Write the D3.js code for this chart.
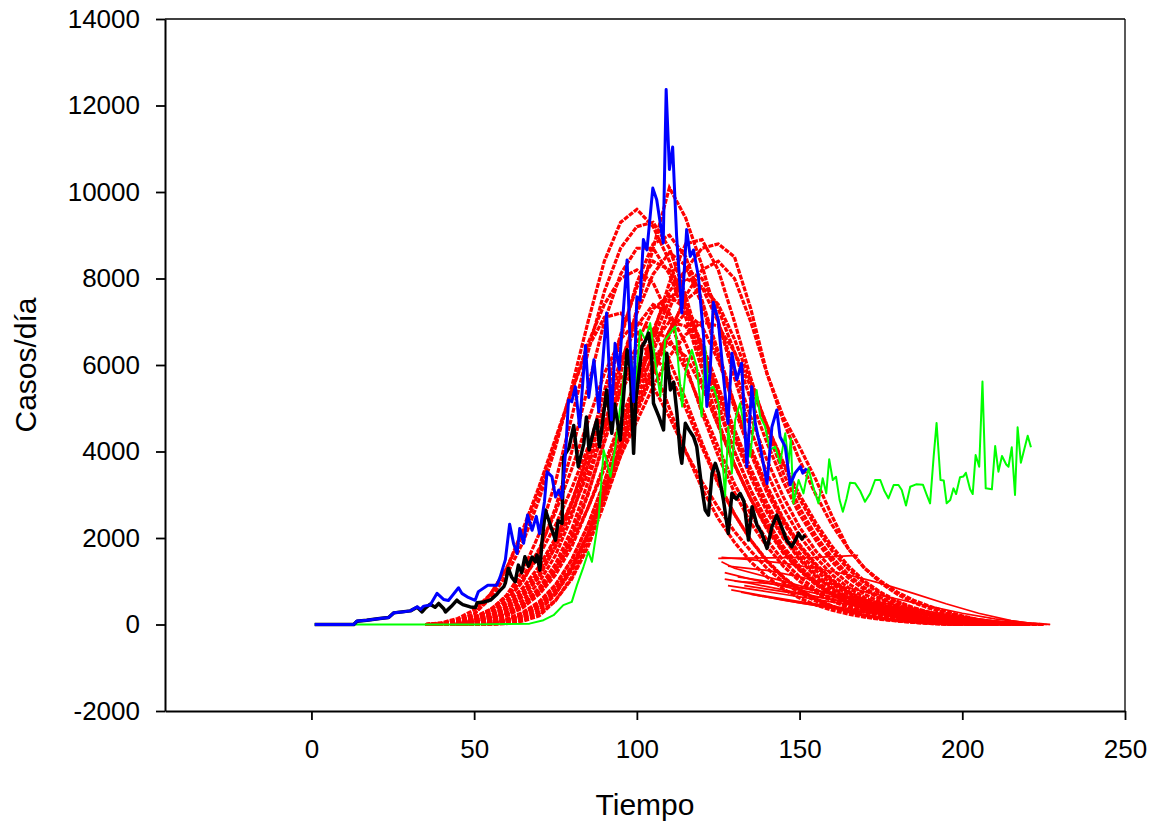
<!DOCTYPE html>
<html><head><meta charset="utf-8">
<script src="https://cdn.jsdelivr.net/npm/d3@7"></script>
<style>body{margin:0;background:#fff} text{font-family:"Liberation Sans",Arial,sans-serif}</style>
</head><body><svg id="c" width="1155" height="829"></svg>
<script>
const xTicks=[0,50,100,150,200,250];
const yTicks=[-2000,0,2000,4000,6000,8000,10000,12000,14000];
const xTitle="Tiempo";
const yTitle="Casos/día";

// observed series [day, cases]
const blueSeries=[[1,0],[13,0],[14,80],[17,100],[21,140],[23.7,160],[25.3,270],[27.8,290],[30.4,315],[32.5,410],[33.5,350],[34.5,425],[36.5,450],[38.6,720],[40.6,580],[42.1,555],[45.2,850],[46.2,720],[48.2,625],[50.3,560],[51.3,760],[54.2,910],[57,910],[58,1100],[59.6,1500],[60.9,2320],[62.1,1875],[63.2,1640],[64,2220],[65.2,1875],[66.4,2530],[67.8,2180],[69.1,2500],[70.1,2100],[71.6,2840],[72.4,3530],[73.9,3420],[75,2950],[76,3110],[77,2920],[77.5,3420],[78.2,4100],[79,5190],[80,5150],[81.1,5500],[82.4,4570],[84.2,6450],[85.2,5250],[86.8,6120],[88.3,4920],[90.7,7200],[92.2,4730],[93.3,6500],[94.6,5900],[95.7,7120],[97,8430],[98,6350],[99,5150],[100,7580],[101,7500],[102,8900],[103.1,8660],[104.9,10090],[106.1,9820],[108.1,8820],[109,12370],[110,10520],[111,11040],[112.2,9000],[113.8,7200],[115.3,9130],[116.4,8510],[117.4,8660],[118.9,8050],[120.5,6660],[121.5,5040],[122.5,5810],[123.5,7450],[125,7040],[126.5,5810],[128,4650],[129.2,6270],[130.7,5660],[132.2,6040],[133.8,3650],[135.3,5500],[136.4,4650],[137.9,4110],[140,3260],[141.5,4570],[143,4960],[144,4340],[145.6,4110],[147.1,3230],[148.6,3500],[150.2,3650],[151,3500],[152.2,3610]];

const blackSeries=[[1,0],[13,0],[14,76],[17,100],[21,139],[23.7,162],[25.3,269],[27.8,292],[30.4,315],[32.5,400],[34,292],[35,380],[36.5,470],[38,400],[39.1,486],[40.6,370],[41.2,292],[43,420],[44.7,563],[45.2,524],[46.5,460],[48.8,407],[50.4,393],[50.9,501],[53,520],[55,563],[57,700],[58,794],[59.1,871],[59.6,964],[60.5,1296],[61.5,1100],[62.6,987],[63.6,1373],[64.6,1200],[65.6,1566],[66.7,1350],[67.8,1560],[68.8,1450],[69.3,1604],[70.2,1257],[70.8,1875],[71.9,2646],[73.4,2300],[75,1952],[75.8,2400],[77,2338],[77.5,3880],[79.1,4074],[80.6,4600],[82,3650],[83.7,4190],[84.5,4800],[85.3,4035],[86.8,4500],[87.7,4729],[88.5,4112],[90.7,5424],[92.3,4422],[93.2,5100],[94.9,4267],[97,6350],[98,5900],[99,3958],[99.7,5200],[101.6,6427],[102.6,6550],[103.6,6736],[104.5,6273],[105.1,5116],[106.8,4800],[108.2,4498],[109.2,6273],[110.3,5424],[111.3,5600],[112.3,4900],[113.3,3958],[113.8,3727],[114.9,4653],[116,4500],[117.4,4343],[118.4,4112],[119.9,3186],[121,2646],[122,2530],[123.1,3495],[124.1,3727],[125.1,3495],[126.6,2877],[128.1,2106],[129.2,3032],[130.5,2900],[131.7,3032],[132.9,2850],[134.3,1952],[135.4,2722],[136.9,2300],[138.4,2106],[140,1759],[141.5,2259],[143,2530],[144.5,2250],[146,1950],[147.6,1797],[148.7,1950],[149.7,2106],[150.7,1980],[151.7,2067]];

const greenSeries=[[1,0],[50,0],[60,10],[67,20],[71.3,100],[74.4,215],[77.4,447],[80,524],[81.6,910],[83.6,1334],[85.1,1681],[86.2,1449],[88.3,2491],[89.8,4035],[91.9,3417],[93.4,4112],[95.4,5348],[97,6350],[98.2,6200],[99.5,5348],[101,6813],[102.6,6582],[104.1,6968],[105.7,6042],[107.2,5269],[108.7,6582],[110.3,6736],[111.8,6890],[112.8,5964],[113.9,5038],[114.9,5810],[116.9,6350],[118.4,5964],[119.9,4807],[121,6427],[122,5424],[123.5,5500],[125.1,5116],[126.1,4035],[127.1,2954],[128.1,4574],[129.2,3495],[130.2,4729],[131.7,5116],[133.3,4422],[134.8,3880],[135.8,4574],[136.8,5424],[137.9,4807],[139.4,4574],[140.9,4035],[142.5,4112],[144,3727],[145.6,4422],[146.6,3727],[147.3,4300],[148.1,2800],[149.7,3341],[151.2,3032],[152.7,3611],[154.2,3186],[155.8,2801],[157.1,3380],[158.2,3032],[159.1,3820],[160.2,3341],[161.2,3417],[162.3,2877],[163.3,2607],[164.4,2900],[165.5,3278],[167.1,3264],[168.6,3093],[170.1,2838],[171.7,3032],[173.2,3341],[174.8,3341],[176,3100],[177.3,2917],[178.9,3225],[180.4,3225],[181.4,3109],[182.7,2750],[184,3186],[185.8,3240],[187.9,3233],[189.1,2993],[190.1,2801],[191.2,3880],[192.1,4660],[193.3,3341],[194.3,3330],[195.2,2801],[196.3,2877],[197.3,3148],[198.1,3016],[199.3,3403],[200.3,3420],[201.1,3510],[202.4,3125],[203.2,3016],[204.1,3919],[205.2,3648],[206.2,5616],[207.2,3148],[209.1,3125],[210.1,4128],[211.1,3533],[212.2,3896],[213.5,3700],[214.2,3648],[215.2,4097],[216.2,2993],[217,4560],[218,3741],[220.1,4366],[221.1,4097]];

// simulated ensemble, sampled every 5 days
const redDays=[35,40,45,50,55,60,65,70,75,80,85,90,95,100,105,110,115,120,125,130,135,140,145,150,155,160,165,170,175,180,185,190,195,200,205,210,215,220,225];
const redA=[0,30,100,250,600,1150,1900,2900,4100,5500,7000,8400,9300,9600,9200,8400,7300,6100,5000,4000,3100,2400,1800,1350,1000,750,550,400,290,200,140,90,55,30,15,5,0,null,null];
const redB=[0,0,10,40,100,220,420,750,1250,2000,3000,4300,5800,7300,8700,10100,9400,8300,7000,5700,4500,3500,2700,2050,1550,1150,850,620,450,320,220,150,95,55,30,10,0,null,null];
const redC=[0,0,0,10,40,100,220,430,780,1300,2100,3000,4100,5200,6300,7300,8200,8700,8800,8500,7300,5800,4800,4100,3350,2500,1750,1300,1000,750,560,420,300,200,110,60,30,10,0];
const redD=[0,10,40,120,280,550,1000,1700,2700,4000,5500,7000,8100,8700,8700,8100,7100,5900,4700,3700,2900,2200,1650,1250,920,680,500,360,260,180,120,80,45,20,5,0,null,null,null];
const redE=[0,0,20,70,170,350,650,1100,1800,2800,4000,5400,6700,7800,8400,8200,7400,6400,5300,4300,3400,2600,2000,1500,1100,820,600,430,310,220,150,100,60,30,10,0,null,null,null];
const redF=[0,0,0,10,40,110,250,500,900,1500,2300,3300,4400,5600,6800,7700,8200,8000,7300,6300,5200,4200,3300,2550,1950,1450,1080,800,580,420,300,210,140,90,50,25,8,0,null];
const redG=[0,0,10,40,110,240,460,800,1300,2050,3050,4200,5400,6500,7300,7600,7300,6500,5500,4500,3600,2800,2150,1650,1250,930,690,500,360,260,180,120,75,40,15,0,null,null,null];
const redH=[0,15,60,160,340,650,1100,1750,2600,3600,4700,5800,6600,7000,6800,6100,5200,4200,3300,2550,1950,1450,1080,800,580,420,300,210,145,95,60,35,15,0,null,null,null,null,null];
const redI=[0,0,0,0,20,60,150,320,700,1300,2100,3100,4100,5000,5900,6800,7500,7800,7400,6600,5600,4600,3700,2900,2250,1700,1280,950,700,510,370,260,180,120,70,35,10,0,null];
const redJ=[0,0,15,50,120,250,470,800,1250,1900,2700,3600,4600,5500,6200,6500,6200,5500,4600,3700,2900,2250,1700,1280,950,700,510,370,260,180,120,75,40,15,0,null,null,null,null];
const redK=[0,0,0,10,40,110,240,460,800,1350,2100,3100,4100,5100,6000,6800,7200,6900,6100,5100,4100,3200,2450,1850,1400,1040,770,560,400,290,200,135,85,50,20,0,null,null,null];
const redL=[0,20,70,170,350,640,1050,1600,2300,3150,4100,5000,5700,5900,5500,4800,4000,3300,2700,2150,1700,1300,980,730,540,390,280,190,130,85,50,25,10,0,null,null,null,null,null];
const redM=[0,5,30,90,210,420,760,1250,1950,2850,3900,5000,6100,6900,7400,7200,6500,5600,4600,3700,2900,2250,1700,1280,950,700,510,370,260,180,120,75,40,15,0,null,null,null,null];
const redN=[0,0,10,40,110,250,480,850,1400,2200,3300,4600,6000,7200,8100,8600,8300,7400,6200,5000,3950,3050,2350,1800,1350,1000,740,540,390,280,190,125,75,40,15,0,null,null,null];
const redO=[0,20,80,230,700,1300,2100,3100,4200,5400,6500,7400,8000,8200,7900,7100,6000,4900,3900,3050,2350,1800,1350,1000,740,540,390,280,195,130,85,50,25,8,0,null,null,null,null];
const redP=[0,0,0,0,0,20,80,200,550,1100,1900,2900,3900,4700,5500,6200,6700,7000,6900,6300,5500,4600,3750,3000,2350,1800,1350,1000,740,540,390,280,190,125,75,40,15,0,null];
const redQ=[0,10,45,120,260,490,850,1350,2000,2800,3700,4600,5400,6000,6200,5800,5000,4100,3250,2550,1950,1480,1100,810,590,430,310,220,150,100,65,35,15,0,null,null,null,null,null];
const redR=[0,0,0,5,30,80,190,380,720,1250,2000,3000,4200,5400,6700,7900,8800,8900,8200,7000,5700,4500,3500,2700,2050,1550,1150,850,620,450,320,225,150,95,55,25,8,0,null];
const redS=[0,40,140,340,700,1300,2200,3200,4300,5400,6400,7100,7200,6800,6000,5000,4000,3150,2450,1900,1450,1100,820,610,450,330,240,170,120,80,50,25,10,0,null,null,null,null,null];
const redT=[0,0,10,50,130,290,560,980,1600,2500,3700,5100,6600,7900,8800,9000,8500,7500,6300,5100,4000,3100,2400,1800,1350,1000,740,540,390,280,190,125,75,40,15,0,null,null,null];
const redU=[0,0,5,30,90,200,390,700,1150,1800,2700,3700,4700,5700,6500,7000,6900,6300,5400,4400,3500,2700,2050,1550,1150,850,620,450,320,230,160,105,65,35,12,0,null,null,null];
const redV=[0,10,45,140,330,680,1250,2100,3300,4800,6300,7700,8700,9200,9300,8700,7600,6300,5100,4000,3100,2350,1750,1300,960,700,510,370,260,180,120,75,40,15,0,null,null,null,null];
const redW=[0,0,0,15,50,130,280,530,920,1500,2300,3300,4400,5500,6600,7500,8000,7800,7000,5900,4800,3800,2950,2250,1700,1280,950,700,510,370,260,180,120,75,40,15,0,null,null];
const redX=[0,5,25,80,190,380,690,1150,1800,2600,3500,4500,5500,6300,6800,6600,5900,5000,4100,3250,2550,1950,1480,1100,810,590,430,310,220,150,100,60,30,10,0,null,null,null,null];
const redY=[0,0,0,0,15,45,120,260,560,1050,1800,2800,3900,4900,5800,6700,7600,8200,8400,8000,7000,5800,4700,3800,3000,2300,1750,1300,960,700,510,370,260,180,110,60,25,5,0];
const redCurves=[redA,redB,redC,redD,redE,redF,redG,redH,redI,redJ,redK,redL,redM,redN,redO,redP,redQ,redR,redS,redT,redU,redV,redW,redX,redY];

// late tails of the ensemble [day, cases]
const tail1=[[125,1530],[140,1540],[155,1550],[168,1600]];
const tail2=[[126,1450],[130,1300],[140,1100],[150,900],[160,700],[170,520],[180,370],[190,250],[200,150],[210,70],[220,20],[227,0]];
const tail3=[[127,1200],[135,1050],[145,880],[155,720],[165,560],[175,420],[185,300],[195,190],[205,100],[215,40],[225,0]];
const tail4=[[128,900],[135,820],[145,700],[155,580],[165,460],[175,350],[185,250],[195,160],[205,80],[215,25],[222,0]];
const tail5=[[129,800],[140,650],[150,530],[160,420],[170,320],[180,230],[190,150],[200,80],[210,30],[218,0]];
const tail6=[[130,1000],[140,950],[150,850],[160,720],[170,580],[180,440],[190,300],[200,180],[210,80],[220,20],[226,0]];
const tail7=[[132,750],[145,560],[160,380],[175,240],[190,130],[205,50],[215,10],[220,0]];
const tail8=[[128,1350],[140,1250],[150,1100],[160,930],[170,760],[180,590],[190,420],[200,260],[210,130],[220,40],[227,0]];
const tail9=[[135,700],[150,500],[165,330],[180,200],[195,100],[210,30],[220,0]];
const tail10=[[126,1550],[135,1500],[145,1420],[155,1300],[165,1150],[175,950],[185,720],[195,480],[205,260],[215,90],[224,0]];
const tail11=[[131,1100],[140,1000],[150,860],[160,700],[170,540],[180,400],[190,270],[200,160],[212,60],[225,0]];
const tail12=[[127,1050],[135,950],[145,800],[155,650],[165,500],[175,370],[185,260],[195,160],[205,80],[213,20],[218,0]];
const tail13=[[133,900],[145,760],[155,640],[165,520],[175,400],[185,290],[195,190],[205,100],[215,30],[222,0]];
const redTails=[tail1,tail2,tail3,tail4,tail5,tail6,tail7,tail8,tail9,tail10,tail11,tail12,tail13];

const svg=d3.select("#c");
const x=d3.scaleLinear().domain([-45,250]).range([165,1125]);
const y=d3.scaleLinear().domain([-2000,14000]).range([711,19]);
const line=d3.line().defined(d=>d[1]!==null).x(d=>x(d[0])).y(d=>y(d[1]));

const plot=svg.append("g");
redCurves.forEach(c=>{
  plot.append("path").datum(redDays.map((t,i)=>[t,c[i]]))
    .attr("d",line).attr("fill","none").attr("stroke","#ff0000")
    .attr("stroke-width",3.2).attr("stroke-dasharray","5 1.2");
});
redTails.forEach(c=>{
  plot.append("path").datum(c).attr("d",line).attr("fill","none")
    .attr("stroke","#ff0000").attr("stroke-width",1.7);
});
plot.append("path").datum(greenSeries).attr("d",line).attr("fill","none")
  .attr("stroke","#00ff00").attr("stroke-width",2).attr("stroke-linejoin","round");
plot.append("path").datum(blackSeries).attr("d",line).attr("fill","none")
  .attr("stroke","#000").attr("stroke-width",3.5).attr("stroke-linejoin","round");
plot.append("path").datum(blueSeries).attr("d",line).attr("fill","none")
  .attr("stroke","#0000ff").attr("stroke-width",3).attr("stroke-linejoin","round");

// frame
svg.append("line").attr("x1",165).attr("x2",1125).attr("y1",19).attr("y2",19).attr("stroke","#000").attr("stroke-width",1.3);
svg.append("line").attr("x1",1125).attr("x2",1125).attr("y1",19).attr("y2",711).attr("stroke","#000").attr("stroke-width",1.3);

const fmt=d=>String(d);
const yAxis=svg.append("g").attr("transform","translate(165,0)")
  .call(d3.axisLeft(y).tickValues(yTicks).tickSize(9).tickSizeOuter(0).tickPadding(16).tickFormat(fmt));
const xAxis=svg.append("g").attr("transform","translate(0,711)")
  .call(d3.axisBottom(x).tickValues(xTicks).tickSize(9).tickSizeOuter(0).tickPadding(20).tickFormat(fmt));
[yAxis,xAxis].forEach(a=>{
  a.select(".domain").attr("stroke-width",2);
  a.selectAll(".tick line").attr("stroke-width",1.8);
  a.selectAll("text").attr("font-size",26).attr("fill","#000").attr("font-family","'Liberation Sans',Arial,sans-serif");
});

svg.append("text").attr("x",645).attr("y",815).attr("text-anchor","middle")
  .attr("font-size",30).text(xTitle);
svg.append("text").attr("transform","translate(36,365) rotate(-90)").attr("text-anchor","middle")
  .attr("font-size",30).text(yTitle);
</script></body></html>
